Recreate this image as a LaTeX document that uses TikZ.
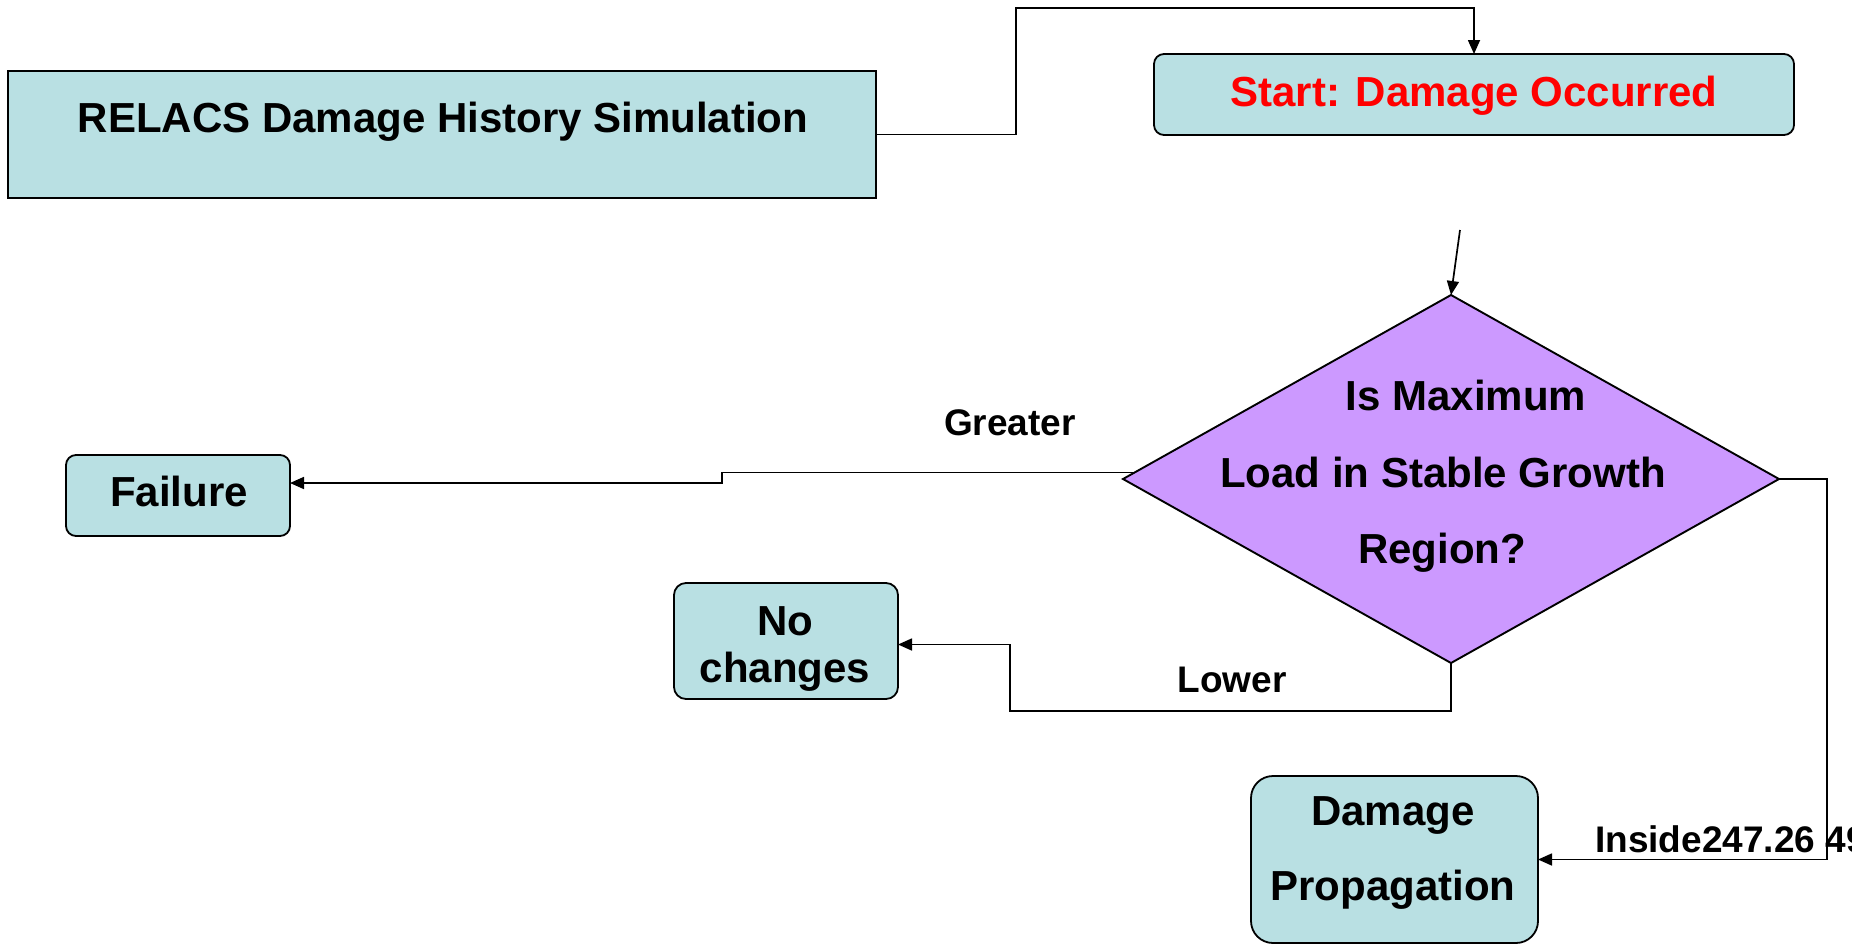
\documentclass[tikz,border=0pt]{standalone}
\usepackage{fontspec}
\setmainfont{Liberation Sans}
\usetikzlibrary{shapes.geometric,arrows.meta,calc}
\definecolor{boxfill}{RGB}{185,224,227}
\definecolor{diafill}{RGB}{204,153,255}
\definecolor{startred}{RGB}{255,0,0}
\begin{document}
\begin{tikzpicture}[x=1pt,y=-1pt,
  box/.style={draw=black, line width=1.8pt, fill=boxfill, inner sep=0pt, outer sep=0pt, anchor=north west},
  rbox/.style={box, rounded corners=10pt},
  big/.style={font=\fontsize{42}{50}\selectfont\bfseries, anchor=base, inner sep=0pt},
  lbl/.style={font=\fontsize{37}{44}\selectfont\bfseries, anchor=base, inner sep=0pt},
  conn/.style={draw=black, line width=1.7pt, -{Triangle[length=14pt,width=12pt]}},
]
\useasboundingbox (0,0) rectangle (1852,945);

% boxes
\node[box, minimum width=868pt, minimum height=127pt] (relacs) at (8,71) {};
\node[rbox, minimum width=640pt, minimum height=81pt] (start) at (1154,54) {};
\node[rbox, minimum width=224pt, minimum height=81pt] (failure) at (66,455) {};
\node[rbox, rounded corners=12pt, minimum width=224pt, minimum height=116pt] (nochg) at (674,583) {};
\node[rbox, rounded corners=22pt, minimum width=287pt, minimum height=167pt] (dprop) at (1251,776) {};
\node[diamond, draw=black, line width=1.9pt, fill=diafill, minimum width=656pt, minimum height=368pt, inner sep=0pt, outer sep=0pt] (dia) at (1451,479) {};

% texts
\node[big] (relacstxt) at (443,132) {RELACS Damage History Simulation};
\node[big, text=startred] (starttxt) at (1474,106) {Start: Damage Occurred};
\node[big] (dia1) at (1466,410) {Is Maximum};
\node[big] (dia2) at (1443,487) {Load in Stable Growth};
\node[big] (dia3) at (1442,563) {Region?};
\node[big] (failtxt) at (179,506) {Failure};
\node[big] (no1) at (785,635) {No};
\node[big] (no2) at (785,682) {changes};
\node[big] (dp1) at (1393,825) {Damage};
\node[big] (dp2) at (1393,900) {Propagation};
\node[lbl] (greater) at (1010,435) {Greater};
\node[lbl] (lower) at (1232,692) {Lower};
\node[lbl, anchor=base west] (inside) at (1595,852) {Inside247.26 49};

% connectors
\coordinate (topbend) at (1016,8);
\draw[conn] (relacs.east) -| (topbend) -| (start.north);

\coordinate (freeend) at (1460,230);
\draw[conn] (freeend) -- (dia.north);

\coordinate (gstart) at ($(dia.west)!0.035!(dia.north)$);
\coordinate (gstep) at (722,0);
\coordinate (gend) at ($(failure.east)+(0,-12.5)$);
\draw[conn] (gstart) -- (gstart -| gstep) -- (gend -| gstep) -- (gend);

\coordinate (lowcorner) at (1010,711);
\coordinate (nend) at ($(nochg.east)+(0,3.5)$);
\draw[conn] (dia.south) |- (lowcorner) |- (nend);

\coordinate (rcorner) at (1827,479);
\draw[conn] (dia.east) -- (rcorner) |- (dprop.east);
\end{tikzpicture}
\end{document}
